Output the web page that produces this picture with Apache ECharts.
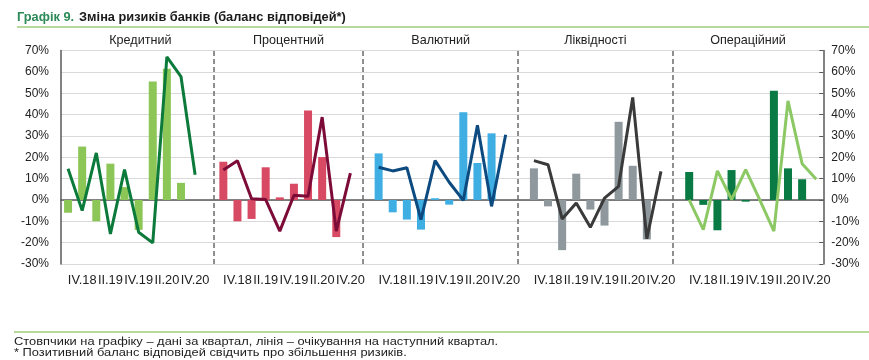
<!DOCTYPE html>
<html>
<head>
<meta charset="utf-8">
<script src="https://cdn.jsdelivr.net/npm/echarts@6/dist/echarts.min.js"></script>
<style>
html,body{margin:0;padding:0;background:#fff;}
#chart{width:869px;height:360px;}
</style>
</head>
<body>
<div id="chart"></div>
<script>
// Quarter labels for each panel (index 10 is a blank spacer)
const quarters = ['III.18','IV.18','I.19','II.19','III.19','IV.19','I.20','II.20','III.20','IV.20'];
const panelNames = ['Кредитний','Процентний','Валютний','Ліквідності','Операційний'];

// Bars: data for the quarter; lines: expectations for next quarter (%)
const creditBars = [-6, 25, -10, 17, 6, -14, 55.5, 61.5, 8];
const creditLine = [14.6, -5, 22, -15.9, 14.2, -15.1, -20.1, 67, 57.8, 11.8];
const rateBars = [17.9, -10, -8.9, 15.3, 1.2, 7.6, 41.9, 20.1, -17.4];
const rateLine = [14, 18.4, 0.6, 0.2, -14.6, 2.2, 1.7, 38.8, -14.6, 12.6];
const fxBars = [21.8, -5.8, -9.2, -13.9, 0.8, -2.2, 41.1, 17.3, 31.2];
const fxLine = [15.3, 13.6, 15.1, -9.2, 18.4, 8.3, -0.2, 35, -3, 30.5];
const liqBars = [14.8, -3, -23.5, 12.3, -4.5, -12, 36.6, 16, -18.5];
const liqLine = [18.4, 16.5, -8.9, -1.4, -12.8, 0.9, 6.4, 48, -18.2, 13.4];
const opBars = [13.1, -2.3, -14.2, 14, -0.8, 0, 51.2, 14.8, 9.7];
const opLine = [0, -13.9, 13.6, 0.2, 14.2, 0, -14.6, 46.4, 17, 9.7];

const yTicks = [-30, -20, -10, 0, 10, 20, 30, 40, 50, 60, 70];

const barSets = [creditBars, rateBars, fxBars, liqBars, opBars];
const lineSets = [creditLine, rateLine, fxLine, liqLine, opLine];
const barColors = ['#8cc657', '#d84a63', '#3eaee3', '#8e989d', '#0a7a44'];
const lineColors = ['#0b7a3b', '#7d0b38', '#0c4a80', '#3a3a3a', '#8cc864'];

const PER = 11; // categories per panel incl. spacer
const nPanels = panelNames.length;
const categories = [];
for (let p = 0; p < nPanels; p++) {
  quarters.forEach(q => categories.push(q));
  if (p < nPanels - 1) categories.push('');
}
const N = categories.length; // 54

function spread(arr, p) {
  const out = new Array(N).fill(null);
  arr.forEach((v, i) => { out[p * PER + i] = v; });
  return out;
}

const FONT = '"Liberation Sans", Arial, sans-serif';
const series = [];
for (let p = 0; p < nPanels; p++) {
  series.push({
    type: 'bar', name: panelNames[p] + ' bars', data: spread(barSets[p], p),
    barWidth: 8, barGap: '-100%', itemStyle: { color: barColors[p] }, z: 2, silent: true
  });
}
for (let p = 0; p < nPanels; p++) {
  series.push({
    type: 'line', name: panelNames[p] + ' line', data: spread(lineSets[p], p),
    symbol: 'none', connectNulls: false, lineStyle: { color: lineColors[p], width: 3 },
    itemStyle: { color: lineColors[p] }, z: 5, silent: true
  });
}
// panel dividers on a hidden value axis
series.push({
  type: 'line', xAxisIndex: 1, data: [], silent: true,
  markLine: {
    symbol: 'none', silent: true, label: { show: false },
    lineStyle: { type: [5, 3], color: '#6b6b6b', width: 1.5 },
    data: [10.82, 21.41, 32.37, 43.33].map(v => ({ xAxis: v }))
  }
});

const gridLeft = 61, gridRight = 823.3, gridTop = 50.5, gridBottom = 264;
const panelEdges = [61, 213.7, 363.3, 518, 672.7, 823.3];
const graphics = [
  { type: 'line', shape: { x1: 17, y1: 27, x2: 869, y2: 27 }, style: { stroke: '#9fcd7c', lineWidth: 1.5 } },
  { type: 'line', shape: { x1: 14, y1: 332, x2: 869, y2: 332 }, style: { stroke: '#9fcd7c', lineWidth: 1.5 } },
  { type: 'text', x: 14, y: 341.7, scaleX: 1.17, style: { text: 'Стовпчики на графіку – дані за квартал, лінія – очікування на наступний квартал.', font: '11px ' + FONT, fill: '#222', textVerticalAlign: 'middle' } },
  { type: 'text', x: 14, y: 352.7, scaleX: 1.17, style: { text: '* Позитивний баланс відповідей свідчить про збільшення ризиків.', font: '11px ' + FONT, fill: '#222', textVerticalAlign: 'middle' } }
];
panelNames.forEach((name, p) => {
  graphics.push({
    type: 'text', x: (panelEdges[p] + panelEdges[p + 1]) / 2 + (p === 0 ? 3 : 0), y: 41,
    style: { text: name, font: '12.6px ' + FONT, fill: '#222', textAlign: 'center', textVerticalAlign: 'middle' }
  });
});

const chart = echarts.init(document.getElementById('chart'), null, { renderer: 'canvas' });
chart.setOption({
  animation: false,
  backgroundColor: '#fff',
  title: {
    left: 17, top: 8, padding: 0,
    text: '{a|Графік 9.} {b|Зміна ризиків банків (баланс відповідей*)}',
    textStyle: {
      rich: {
        a: { color: '#2b8a57', fontWeight: 'bold', fontSize: 12.8, fontFamily: FONT },
        b: { color: '#1a1a1a', fontWeight: 'bold', fontSize: 12.8, fontFamily: FONT }
      }
    }
  },
  grid: { left: gridLeft, right: 869 - gridRight, top: gridTop, bottom: 360 - gridBottom, containLabel: false },
  xAxis: [{
    type: 'category', data: categories, boundaryGap: true,
    axisLine: { lineStyle: { color: '#595959', width: 1.5 } },
    axisTick: { show: false },
    axisLabel: {
      interval: (i) => (i % PER) % 2 === 1 && (i % PER) < 10,
      color: '#222', fontSize: 12.8, margin: 10, fontFamily: FONT
    },
    splitLine: { show: false }
  }, {
    type: 'value', min: 0, max: N, show: false
  }],
  yAxis: [{
    type: 'value', min: yTicks[0], max: yTicks[yTicks.length - 1], interval: 10, position: 'left',
    axisLine: { show: true, lineStyle: { color: '#595959', width: 1.5 } },
    axisTick: { show: false },
    axisLabel: { formatter: '{value}%', color: '#222', fontSize: 12, margin: 12, fontFamily: FONT },
    splitLine: { lineStyle: { color: '#d9d9d9', width: 1 } }
  }, {
    type: 'value', min: yTicks[0], max: yTicks[yTicks.length - 1], interval: 10, position: 'right',
    axisLine: { show: true, lineStyle: { color: '#595959', width: 1.5 } },
    axisTick: { show: true, inside: true, length: 4, lineStyle: { color: '#595959' } },
    axisLabel: { formatter: '{value}%', color: '#222', fontSize: 12, margin: 8, fontFamily: FONT },
    splitLine: { show: false }
  }],
  graphic: graphics,
  series: series
});
</script>
</body>
</html>
